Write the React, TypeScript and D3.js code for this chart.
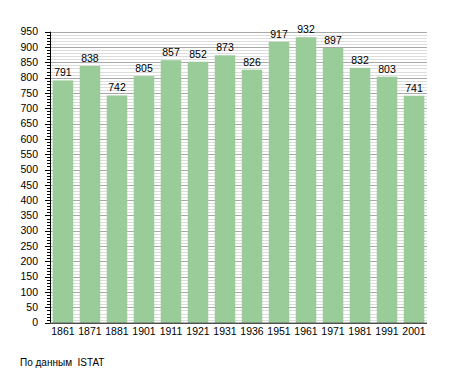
import { useEffect, useRef } from 'react'
import * as d3 from 'd3'

const years = ['1861', '1871', '1881', '1901', '1911', '1921', '1931', '1936', '1951', '1961', '1971', '1981', '1991', '2001']
const population = [791, 838, 742, 805, 857, 852, 873, 826, 917, 932, 897, 832, 803, 741]
const majorTicks = d3.range(0, 951, 50)
const minorTicks = d3.range(0, 951, 10).filter(v => v % 50 !== 0)
const sourceNote = 'По данным  ISTAT'

export default function App() {
  const svgRef = useRef<SVGSVGElement>(null)
  const width = 455
  const height = 373

  useEffect(() => {
    if (!svgRef.current) return
    const svg = d3.select(svgRef.current)
    svg.selectAll('*').remove()

    const left = 50
    const right = 427
    const top = 31.7
    const bottom = 322.7
    const font = 'Liberation Sans, Arial, sans-serif'
    const fs = '10.5px'

    const x = d3.scaleBand().domain(years).range([left, right]).paddingInner(0.24).paddingOuter(0.1)
    const y = d3.scaleLinear().domain([0, 950]).range([bottom, top])

    svg.append('rect').attr('width', width).attr('height', height).attr('fill', '#fff')

    // gridlines
    svg.append('g').selectAll('line')
      .data(minorTicks)
      .join('line')
      .attr('x1', left).attr('x2', right)
      .attr('y1', d => Math.round(y(d)) + 0.5).attr('y2', d => Math.round(y(d)) + 0.5)
      .attr('stroke', '#dcdcdc').attr('stroke-width', 1)

    svg.append('g').selectAll('line')
      .data(majorTicks.filter(d => d > 0))
      .join('line')
      .attr('x1', left).attr('x2', right)
      .attr('y1', d => Math.round(y(d)) + 0.5).attr('y2', d => Math.round(y(d)) + 0.5)
      .attr('stroke', '#a8a8a8').attr('stroke-width', 1)

    // bars
    svg.append('g').selectAll('rect')
      .data(population)
      .join('rect')
      .attr('x', (d, i) => x(years[i])!)
      .attr('y', d => y(d))
      .attr('width', x.bandwidth())
      .attr('height', d => bottom - y(d))
      .attr('fill', '#99cc99')

    // value labels
    svg.append('g').selectAll('text')
      .data(population)
      .join('text')
      .attr('x', (d, i) => x(years[i])! + x.bandwidth() / 2)
      .attr('y', d => y(d) - 4)
      .attr('text-anchor', 'middle')
      .attr('font-family', font)
      .attr('font-size', fs)
      .attr('fill', '#000')
      .text(d => d)

    // y axis
    const axis = svg.append('g')
    axis.append('line')
      .attr('x1', left + 0.5).attr('x2', left + 0.5)
      .attr('y1', top).attr('y2', bottom)
      .attr('stroke', '#000')
    axis.selectAll('line.minor')
      .data(minorTicks)
      .join('line')
      .attr('class', 'minor')
      .attr('x1', left - 3).attr('x2', left)
      .attr('y1', d => Math.round(y(d)) + 0.5).attr('y2', d => Math.round(y(d)) + 0.5)
      .attr('stroke', '#000')
    axis.selectAll('line.major')
      .data(majorTicks)
      .join('line')
      .attr('class', 'major')
      .attr('x1', left - 5).attr('x2', left)
      .attr('y1', d => Math.round(y(d)) + 0.5).attr('y2', d => Math.round(y(d)) + 0.5)
      .attr('stroke', '#000')
    axis.selectAll('text')
      .data(majorTicks)
      .join('text')
      .attr('x', 38)
      .attr('y', d => y(d))
      .attr('dy', '0.35em')
      .attr('text-anchor', 'end')
      .attr('font-family', font)
      .attr('font-size', fs)
      .text(d => d)

    // baseline
    svg.append('line')
      .attr('x1', left).attr('x2', right)
      .attr('y1', bottom + 0.5).attr('y2', bottom + 0.5)
      .attr('stroke', '#000')

    // x labels
    svg.append('g').selectAll('text')
      .data(years)
      .join('text')
      .attr('x', d => x(d)! + x.bandwidth() / 2)
      .attr('y', bottom + 9)
      .attr('dy', '0.35em')
      .attr('text-anchor', 'middle')
      .attr('font-family', font)
      .attr('font-size', fs)
      .text(d => d)

    svg.append('text')
      .attr('x', 20)
      .attr('y', 362)
      .attr('dy', '0.35em')
      .attr('font-family', font)
      .attr('font-size', '10px')
      .attr('xml:space', 'preserve')
      .style('white-space', 'pre')
      .text(sourceNote)
  }, [])

  return (
    <svg
      ref={svgRef}
      width={width}
      height={height}
      style={{ position: 'absolute', left: 0, top: 0 }}
    />
  )
}
